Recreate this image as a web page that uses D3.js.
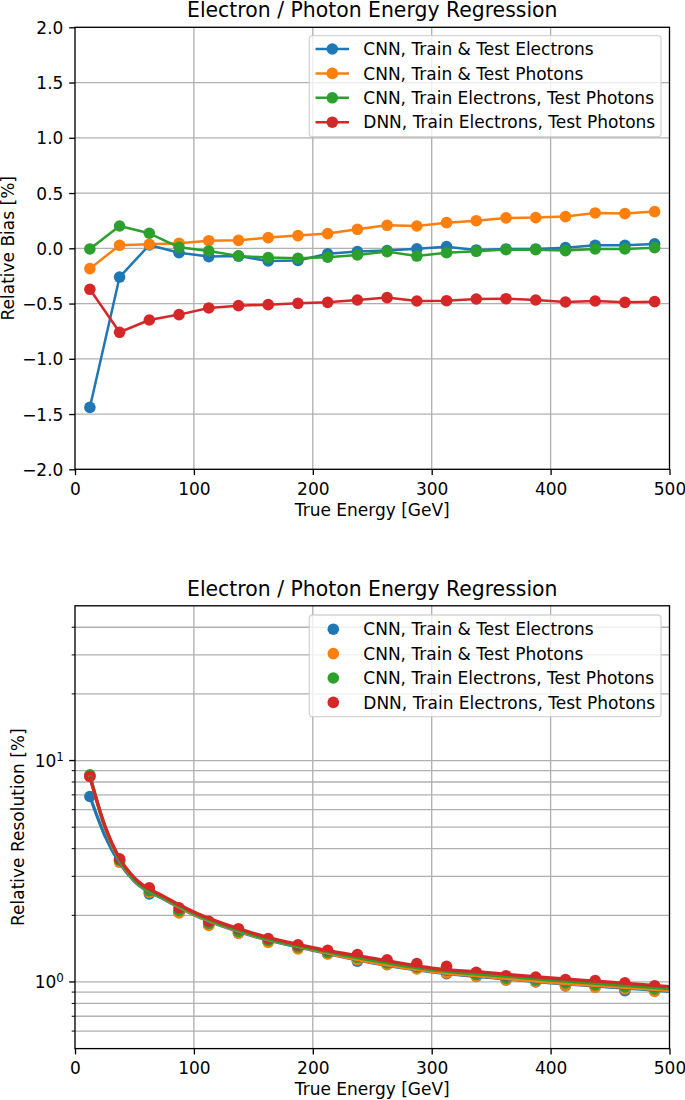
<!DOCTYPE html>
<html><head><meta charset="utf-8">
<script src="https://cdn.jsdelivr.net/npm/d3@7"></script>
<style>body{margin:0;background:#fff}svg{display:block}text{font-family:"DejaVu Sans",sans-serif;fill:#000}</style>
</head><body><svg id="c" width="685" height="1100"></svg>
<script>
// ---------- data ----------
const chartTitle = "Electron / Photon Energy Regression";
const xLabel = "True Energy [GeV]";
const biasLabel = "Relative Bias [%]";
const resLabel = "Relative Resolution [%]";
const seriesNames = ["CNN, Train & Test Electrons","CNN, Train & Test Photons","CNN, Train Electrons, Test Photons","DNN, Train Electrons, Test Photons"];
const seriesColors = ["#1f77b4","#ff7f0e","#2ca02c","#d62728"];
const energy = [12.5,37.5,62.5,87.5,112.5,137.5,162.5,187.5,212.5,237.5,262.5,287.5,312.5,337.5,362.5,387.5,412.5,437.5,462.5,487.5];

const biasCnnEE = [-1.44,-0.26,0.03,-0.04,-0.075,-0.07,-0.115,-0.11,-0.05,-0.03,-0.02,-0.005,0.015,-0.015,-0.006,-0.006,0.006,0.027,0.027,0.04];
const biasCnnPP = [-0.184,0.027,0.036,0.045,0.069,0.072,0.097,0.115,0.133,0.172,0.208,0.202,0.232,0.25,0.275,0.278,0.287,0.32,0.314,0.332];
const biasCnnEP = [-0.006,0.202,0.136,0.009,-0.024,-0.069,-0.084,-0.09,-0.081,-0.06,-0.03,-0.07,-0.04,-0.027,-0.012,-0.012,-0.021,-0.006,-0.006,0.006];
const biasDnnEP = [-0.371,-0.76,-0.649,-0.6,-0.54,-0.519,-0.51,-0.498,-0.489,-0.468,-0.446,-0.477,-0.474,-0.459,-0.456,-0.468,-0.486,-0.477,-0.489,-0.483];

const resCnnEE = [6.88,3.55,2.50,2.06,1.81,1.66,1.52,1.42,1.34,1.24,1.20,1.15,1.09,1.06,1.02,1.00,0.96,0.95,0.913,0.91];
const resCnnPP = [8.5,3.47,2.54,2.05,1.80,1.66,1.51,1.41,1.34,1.26,1.197,1.145,1.10,1.06,1.024,1.006,0.962,0.946,0.93,0.907];
const resCnnEP = [8.62,3.55,2.58,2.10,1.84,1.69,1.54,1.44,1.36,1.29,1.22,1.17,1.13,1.08,1.04,1.02,0.99,0.97,0.95,0.93];
const resDnnEP = [8.47,3.60,2.66,2.16,1.88,1.74,1.57,1.47,1.39,1.33,1.26,1.21,1.176,1.105,1.067,1.053,1.024,1.014,0.99,0.962];

// fitted resolution curves
const fitEnergy = [12.5,25,37.5,50,75,100,150,200,250,300,350,400,450,500];
const fitCnnEE = [6.9,4.6,3.45,2.85,2.36,2.01,1.61,1.39,1.22,1.11,1.045,0.99,0.948,0.908];
const fitCnnPP = [8.5,5.0,3.55,2.88,2.38,2.02,1.62,1.40,1.225,1.117,1.053,0.996,0.955,0.916];
const fitCnnEP = [8.6,5.05,3.58,2.9,2.39,2.04,1.63,1.41,1.25,1.135,1.075,1.02,0.975,0.932];
const fitDnnEP = [8.45,5.1,3.62,2.95,2.43,2.07,1.66,1.43,1.28,1.156,1.098,1.042,0.998,0.952];

const xTicks = [0,100,200,300,400,500];
const biasTicks = [-2.0,-1.5,-1.0,-0.5,0.0,0.5,1.0,1.5,2.0];
const resMajorTicks = [1,10];
const resMajorExp = ["0","1"];
const resMinorTicks = [0.6,0.7,0.8,0.9,2,3,4,5,6,7,8,9,20,30,40];

const biasSeries = [biasCnnEE,biasCnnPP,biasCnnEP,biasDnnEP];
const resSeries = [resCnnEE,resCnnPP,resCnnEP,resDnnEP];
const fitSeries = [fitCnnEE,fitCnnPP,fitCnnEP,fitDnnEP];

// ---------- drawing ----------
const svg = d3.select("#c");
const FS = 17, TFS = 20.4, TICK = 5.8, PAD = 5.8, GRID = "#b0b0b0", LW = 1.33;
const L = 75, R = 669.5;
const x = d3.scaleLinear().domain([0,500]).range([L,R]);

function frame(g, top, bottom) {
  g.append("rect").attr("x",L).attr("y",top).attr("width",R-L).attr("height",bottom-top)
    .attr("fill","none").attr("stroke","#000").attr("stroke-width",LW);
}
function xAxis(g, bottom) {
  const ax = g.append("g").attr("transform",`translate(0,${bottom})`)
    .call(d3.axisBottom(x).tickValues(xTicks).tickSize(TICK).tickPadding(PAD).tickFormat(d3.format("d")));
  ax.select(".domain").remove();
  ax.selectAll(".tick line").attr("stroke","#000").attr("stroke-width",LW);
  ax.selectAll(".tick text").attr("font-size",FS).attr("font-family","DejaVu Sans").attr("dy",null).attr("y",25.4);
  g.append("text").attr("x",(L+R)/2).attr("y",bottom+46.5).attr("text-anchor","middle").attr("font-size",FS).text(xLabel);
}
function title(g, top) {
  g.append("text").attr("x",(L+R)/2).attr("y",top-10).attr("text-anchor","middle").attr("font-size",TFS).text(chartTitle);
}

// ===== top: bias =====
{
  const top = 27.3, bottom = 469.3;
  const y = d3.scaleLinear().domain([-2,2]).range([bottom,top]);
  const g = svg.append("g");
  g.append("g").selectAll("line").data(xTicks.slice(1,-1)).join("line")
    .attr("x1",d=>x(d)).attr("x2",d=>x(d)).attr("y1",top).attr("y2",bottom).attr("stroke",GRID).attr("stroke-width",LW);
  g.append("g").selectAll("line").data(biasTicks.slice(1,-1)).join("line")
    .attr("x1",L).attr("x2",R).attr("y1",d=>y(d)).attr("y2",d=>y(d)).attr("stroke",GRID).attr("stroke-width",LW);
  const line = d3.line().x((d,i)=>x(energy[i])).y(d=>y(d));
  biasSeries.forEach((s,k)=>{
    g.append("path").attr("d",line(s)).attr("fill","none").attr("stroke",seriesColors[k]).attr("stroke-width",2.5).attr("stroke-linejoin","round");
    g.append("g").selectAll("circle").data(s).join("circle")
      .attr("cx",(d,i)=>x(energy[i])).attr("cy",d=>y(d)).attr("r",5.8).attr("fill",seriesColors[k]);
  });
  frame(g, top, bottom);
  const ay = g.append("g").attr("transform",`translate(${L},0)`)
    .call(d3.axisLeft(y).tickValues(biasTicks).tickSize(TICK).tickPadding(PAD).tickFormat(d3.format(".1f")));
  ay.select(".domain").remove();
  ay.selectAll(".tick line").attr("stroke","#000").attr("stroke-width",LW);
  ay.selectAll(".tick text").attr("font-size",FS).attr("font-family","DejaVu Sans").attr("dy","0.36em");
  xAxis(g, bottom);
  title(g, top);
  g.append("text").attr("transform",`translate(14,${(top+bottom)/2}) rotate(-90)`).attr("text-anchor","middle").attr("font-size",FS).text(biasLabel);
  const lg = g.append("g");
  lg.append("rect").attr("x",309.3).attr("y",35.7).attr("width",351.7).attr("height",101).attr("rx",3.3)
    .attr("fill","#fff").attr("fill-opacity",0.8).attr("stroke","#cccccc").attr("stroke-opacity",0.8).attr("stroke-width",LW);
  seriesNames.forEach((n,k)=>{
    const ry = 49 + k*24.4;
    lg.append("line").attr("x1",315.5).attr("x2",349).attr("y1",ry).attr("y2",ry).attr("stroke",seriesColors[k]).attr("stroke-width",2.5);
    lg.append("circle").attr("cx",332.3).attr("cy",ry).attr("r",5.8).attr("fill",seriesColors[k]);
    lg.append("text").attr("x",363.3).attr("y",ry+6.1).attr("font-size",FS).text(n);
  });
}

// ===== bottom: resolution =====
{
  const top = 605.8, bottom = 1048.6;
  const y = d3.scaleLog().domain([0.5,50]).range([bottom,top]);
  const g = svg.append("g");
  g.append("g").selectAll("line").data(xTicks.slice(1,-1)).join("line")
    .attr("x1",d=>x(d)).attr("x2",d=>x(d)).attr("y1",top).attr("y2",bottom).attr("stroke",GRID).attr("stroke-width",LW);
  g.append("g").selectAll("line").data(resMajorTicks.concat(resMinorTicks)).join("line")
    .attr("x1",L).attr("x2",R).attr("y1",d=>y(d)).attr("y2",d=>y(d)).attr("stroke",GRID).attr("stroke-width",LW);
  const curve = d3.line().x((d,i)=>x(fitEnergy[i])).y(d=>y(d)).curve(d3.curveMonotoneX);
  svg.append("clipPath").attr("id","clipB").append("rect").attr("x",L).attr("y",top).attr("width",R-L).attr("height",bottom-top);
  const data = g.append("g").attr("clip-path","url(#clipB)");
  resSeries.forEach((s,k)=>{
    data.append("g").selectAll("circle").data(s).join("circle")
      .attr("cx",(d,i)=>x(energy[i])).attr("cy",d=>y(d)).attr("r",5.8).attr("fill",seriesColors[k]);
  });
  fitSeries.forEach((s,k)=>{
    data.append("path").attr("d",curve(s)).attr("fill","none").attr("stroke",seriesColors[k]).attr("stroke-width",3.3);
  });
  frame(g, top, bottom);
  g.append("g").selectAll("line").data(resMajorTicks).join("line")
    .attr("x1",L-TICK).attr("x2",L).attr("y1",d=>y(d)).attr("y2",d=>y(d)).attr("stroke","#000").attr("stroke-width",LW);
  g.append("g").selectAll("line").data(resMinorTicks).join("line")
    .attr("x1",L-3.3).attr("x2",L).attr("y1",d=>y(d)).attr("y2",d=>y(d)).attr("stroke","#000").attr("stroke-width",1.0);
  const tl = g.append("g").selectAll("text").data(resMajorTicks).join("text")
    .attr("x",L-TICK-PAD+0.5).attr("y",d=>y(d)+6).attr("text-anchor","end").attr("font-size",FS);
  tl.append("tspan").text("10");
  tl.append("tspan").attr("dy",-5.8).attr("font-size",11.9).text((d,i)=>resMajorExp[i]);
  xAxis(g, bottom);
  title(g, top);
  g.append("text").attr("transform",`translate(24,${(top+bottom)/2}) rotate(-90)`).attr("text-anchor","middle").attr("font-size",FS).text(resLabel);
  const lg = g.append("g");
  lg.append("rect").attr("x",309.3).attr("y",615).attr("width",351.7).attr("height",101.7).attr("rx",3.3)
    .attr("fill","#fff").attr("fill-opacity",0.8).attr("stroke","#cccccc").attr("stroke-opacity",0.8).attr("stroke-width",LW);
  seriesNames.forEach((n,k)=>{
    const ry = 629.2 + k*24.4;
    lg.append("circle").attr("cx",333.3).attr("cy",ry).attr("r",5.8).attr("fill",seriesColors[k]);
    lg.append("text").attr("x",363.3).attr("y",ry+6.1).attr("font-size",FS).text(n);
  });
}
</script></body></html>
